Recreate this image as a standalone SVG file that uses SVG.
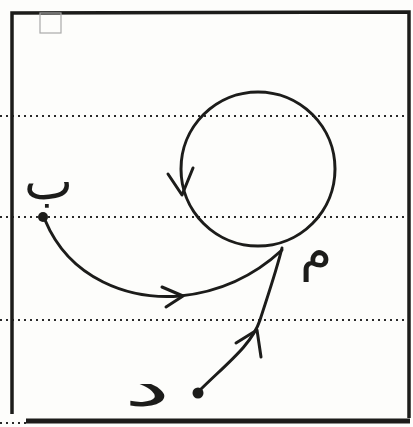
<svg xmlns="http://www.w3.org/2000/svg" width="413" height="427" viewBox="0 0 413 427">
<style>
.ink{fill:none;stroke:#1c1c1a;stroke-width:3;stroke-linecap:round;stroke-linejoin:round}
.frame{fill:none;stroke:#1c1c1a;stroke-width:3.5}
.dots{fill:none;stroke:#2a2a2a;stroke-width:2;stroke-dasharray:2 4}
.lbl{font-family:"DejaVu Sans","Noto Sans",sans-serif;fill:#1c1c1a}
</style>
<rect width="413" height="427" fill="#fdfdfb"/>
<g id="paper">
<line class="dots" x1="0" y1="116" x2="405" y2="116"/>
<line class="dots" x1="0" y1="217" x2="405" y2="217"/>
<line class="dots" x1="0" y1="320" x2="408" y2="320"/>
<line class="dots" x1="0" y1="423" x2="26" y2="423"/>
<path class="frame" d="M12,414 L12,13 L409,12 L409,418"/>
<line x1="26" y1="421" x2="410" y2="421" stroke="#1c1c1a" stroke-width="5"/>
<rect x="40" y="13" width="21" height="20" fill="none" stroke="#aaa" stroke-width="1.2"/>
</g>
<g id="node-b">
<circle cx="43" cy="217" r="5" fill="#1c1c1a"/>
<text class="lbl" x="24" y="199" font-size="52">ب</text>
</g>
<g id="node-m">
<text class="lbl" x="300" y="270" font-size="52">م</text>
</g>
<g id="node-d">
<circle cx="198" cy="393" r="5.5" fill="#1c1c1a"/>
<text class="lbl" x="124" y="406" font-size="52" transform="translate(124,0) scale(2,1) translate(-124,0)">د</text>
</g>
<g id="connectors">
<ellipse class="ink" cx="258" cy="169" rx="77" ry="77"/>
<path class="ink" d="M168,174 L182,195 L193,168"/>
<path class="ink" d="M45,220 C70,280 130,300 180,296 C220,292 255,275 282,250"/>
<path class="ink" d="M162,287 L183,296 L166,307"/>
<path class="ink" d="M198,392 C225,365 252,345 260,320 C268,295 276,272 282,248"/>
<path class="ink" d="M236,343 L257,330 L261,357"/>
</g>
</svg>
